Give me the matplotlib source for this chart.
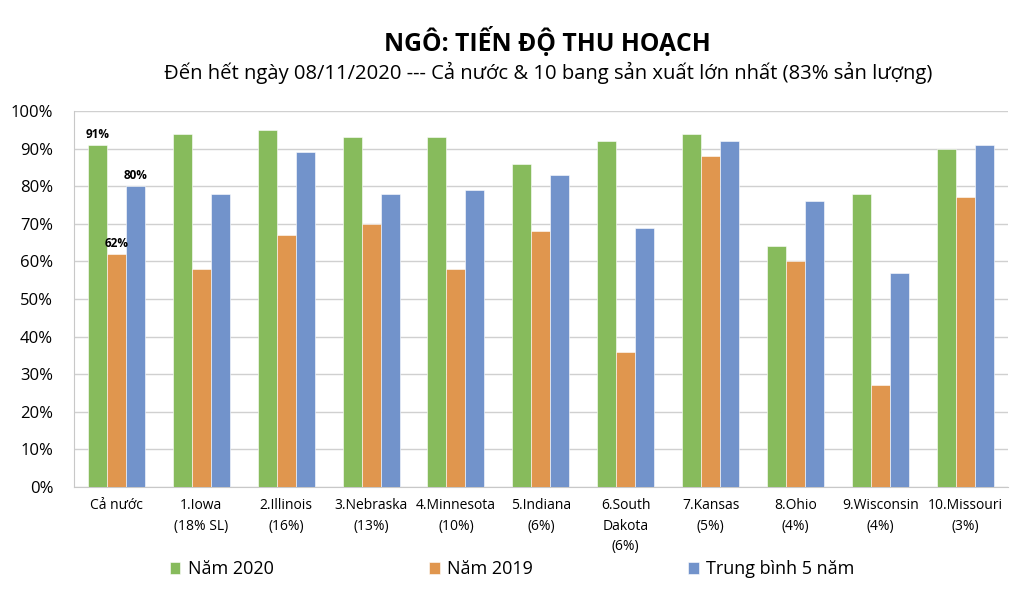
import numpy as np
import matplotlib.pyplot as plt
from matplotlib.ticker import PercentFormatter

plt.rcParams['font.family'] = ['Open Sans', 'DejaVu Sans']

categories = ['Cả nước', '1.Iowa\n(18% SL)', '2.Illinois\n(16%)', '3.Nebraska\n(13%)',
              '4.Minnesota\n(10%)', '5.Indiana\n(6%)', '6.South\nDakota\n(6%)',
              '7.Kansas\n(5%)', '8.Ohio\n(4%)', '9.Wisconsin\n(4%)', '10.Missouri\n(3%)']
nam_2020 = [91, 94, 95, 93, 93, 86, 92, 94, 64, 78, 90]
nam_2019 = [62, 58, 67, 70, 58, 68, 36, 88, 60, 27, 77]
tb_5nam = [80, 78, 89, 78, 79, 83, 69, 92, 76, 57, 91]
series_names = ['Năm 2020', 'Năm 2019', 'Trung bình 5 năm']
colors = ['#87BB5C', '#E0964E', '#7293CB']

fig = plt.figure(figsize=(10.24, 5.98), dpi=100)
ax = fig.add_axes([0.0723, 0.1856, 0.9117, 0.6288])

x = np.arange(len(categories))
w = 0.224
bars = []
for i, (vals, c, name) in enumerate(zip([nam_2020, nam_2019, tb_5nam], colors, series_names)):
    b = ax.bar(x + (i - 1) * w, vals, w, color=c, label=name, edgecolor='white', linewidth=0.4, zorder=3)
    bars.append(b)

# nhan du lieu cho ca nuoc
for b, vals in zip(bars, [nam_2020, nam_2019, tb_5nam]):
    r = b[0]
    ax.text(r.get_x() + r.get_width() / 2, vals[0] + 1.0, f'{vals[0]}%',
            ha='center', va='bottom', fontsize=8.5, fontweight='bold')

ax.set_xlim(-0.5, len(categories) - 0.5)
ax.set_ylim(0, 100)
ax.set_yticks(np.arange(0, 101, 10))
ax.yaxis.set_major_formatter(PercentFormatter(decimals=0))
ax.set_xticks(x)
ax.set_xticklabels(categories, fontsize=10, linespacing=1.5, va='top')
ax.tick_params(axis='y', labelsize=12, length=0, pad=15)
ax.tick_params(axis='x', length=0, pad=8)
ax.grid(axis='y', color='#d0d0d0', linewidth=1, zorder=0)
for s in ['top', 'right']:
    ax.spines[s].set_visible(False)
for s in ['left', 'bottom']:
    ax.spines[s].set_color('#c8c8c8')

fig.text(0.535, 0.93, 'NGÔ: TIẾN ĐỘ THU HOẠCH', ha='center', va='center',
         fontsize=17.8, fontweight='bold')
fig.text(0.535, 0.878, 'Đến hết ngày 08/11/2020 --- Cả nước & 10 bang sản xuất lớn nhất (83% sản lượng)',
         ha='center', va='center', fontsize=14.6)

fig.legend(loc='center', bbox_to_anchor=(0.5, 0.048), ncol=3, frameon=False,
           fontsize=13, handlelength=0.6, handleheight=0.7, handletextpad=0.4,
           columnspacing=8.6)

fig.savefig('out.png', dpi=100)
